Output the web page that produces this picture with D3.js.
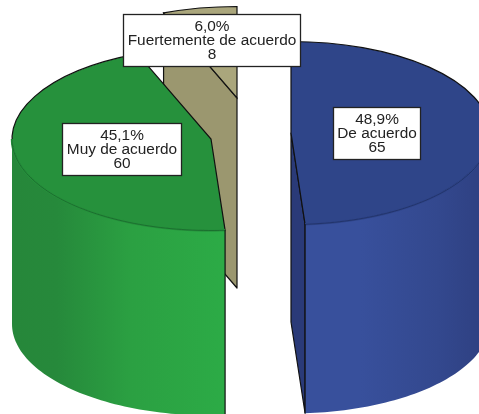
<!DOCTYPE html>
<html><head><meta charset="utf-8">
<script src="https://cdn.jsdelivr.net/npm/d3@7/dist/d3.min.js"></script>
<style>html,body{margin:0;padding:0;background:#fff;overflow:hidden}svg{display:block;filter:blur(0.35px)}</style>
</head><body><svg id="c" width="479" height="414"></svg>
<script>
const categories=["De acuerdo","Muy de acuerdo","Fuertemente de acuerdo"];
const counts=[65,60,8];
const percents=["48,9%","45,1%","6,0%"];
const topColors=["#2f4589","#26913c","#aaa67c"];
const wallColors=["#2a3a78","#26913c","#9b976f"];
const rimColors=["#1d2c5e","#17602a"];
const layout=[{cx:291,cy:133,h:189,box:[333,107,87,52]},{cx:211,cy:139,h:185,box:[62,123,119,52]},{cx:237,cy:98,h:190,box:[123,14,177,52]}];
const rx=199,ry=91.5,ink="#111";
const svg=d3.select("#c");
const defs=svg.append("defs");
const gradStops=[[["#38509c",0],["#38509c",.3],["#33488e",.72],["#2e3f80",1]],[["#26873a",0],["#26893b",.2],["#2ba042",.55],["#2cab46",1]]];
const gradX=[[305,490],[14,225]];
gradStops.forEach((st,i)=>{const g=defs.append("linearGradient").attr("id","g"+i).attr("gradientUnits","userSpaceOnUse")
 .attr("x1",gradX[i][0]).attr("x2",gradX[i][1]).attr("y1",0).attr("y2",0);
 st.forEach(s=>g.append("stop").attr("offset",s[1]).attr("stop-color",s[0]));});
const arcs=d3.pie().sort(null).startAngle(0).endAngle(2*Math.PI)(counts);
const arc=d3.arc().innerRadius(0).outerRadius(rx);
const pt=(l,a,dy=0)=>[l.cx+rx*Math.sin(a),l.cy-ry*Math.cos(a)+dy];
const line=d3.line();
const root=svg.append("g");
function drawTop(i){const l=layout[i];
 root.append("path").attr("d",arc(arcs[i])).attr("transform",`translate(${l.cx},${l.cy}) scale(1,${ry/rx})`)
  .attr("fill",topColors[i]).attr("stroke",ink).attr("stroke-width",1.2).attr("vector-effect","non-scaling-stroke");}
function wall(i,a,col){const l=layout[i],p=pt(l,a);
 root.append("path").attr("d",line([[l.cx,l.cy],p,[p[0],p[1]+l.h],[l.cx,l.cy+l.h]])+"Z")
  .attr("fill",col).attr("stroke",ink).attr("stroke-width",1.2).attr("stroke-linejoin","round");}
function side(i,a0,a1){const l=layout[i],n=d3.range(a0,a1,(a1-a0)/60).concat([a1]);
 const up=n.map(a=>pt(l,a)),dn=n.map(a=>pt(l,a,l.h)).reverse();
 root.append("path").attr("d",line(up.concat(dn))+"Z").attr("fill",`url(#g${i})`);
 root.append("path").attr("d",line(up)).attr("fill","none").attr("stroke",topColors[i]).attr("stroke-width",2.4);
 root.append("path").attr("d",line(up)).attr("fill","none").attr("stroke",rimColors[i]).attr("stroke-width",.7);}
// tan slice: cut face then top
wall(2,arcs[2].startAngle,wallColors[2]);
drawTop(2);
// green slice
drawTop(1);
side(1,arcs[1].startAngle,3*Math.PI/2);
const ge=pt(layout[1],arcs[1].startAngle);
root.append("path").attr("d",line([ge,[ge[0],ge[1]+layout[1].h]])).attr("stroke",ink).attr("stroke-width",1.2);
// blue slice
wall(0,arcs[0].endAngle,wallColors[0]);
drawTop(0);
side(0,Math.PI/2,arcs[0].endAngle);
const be=pt(layout[0],arcs[0].endAngle);
root.append("path").attr("d",line([be,[be[0],be[1]+layout[0].h]])).attr("stroke",ink).attr("stroke-width",1.2);
// labels
categories.forEach((c,i)=>{const b=layout[i].box;
 const g=svg.append("g");
 g.append("rect").attr("x",b[0]+.5).attr("y",b[1]+.5).attr("width",b[2]).attr("height",b[3]).attr("fill","#fff").attr("stroke","#222").attr("stroke-width",1.3);
 [percents[i],c,String(counts[i])].forEach((t,j)=>g.append("text").attr("x",b[0]+b[2]/2+.5).attr("y",b[1]+17+j*14)
  .attr("text-anchor","middle").attr("font-family","Liberation Sans, Arial, sans-serif").attr("font-size",15.4).attr("fill","#222").text(t));
});
</script></body></html>
